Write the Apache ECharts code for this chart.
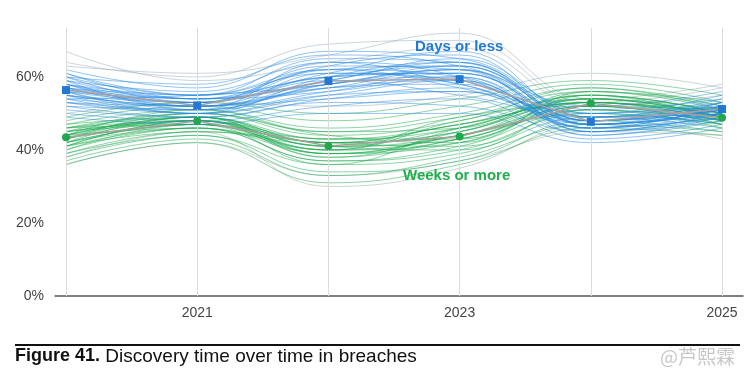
<!DOCTYPE html>
<html><head><meta charset="utf-8">
<script src="https://cdn.jsdelivr.net/npm/echarts@6/dist/echarts.min.js"></script>
<style>html,body{margin:0;padding:0;background:#fff}#c{width:749px;height:386px}</style>
</head><body><div id="c"></div>
<script>
const years = [2020, 2021, 2022, 2023, 2024, 2025];
const xTickLabels = [2021, 2023, 2025];
const yTicks = [0, 20, 40, 60];
const daysOrLess = [56.4, 52.2, 58.9, 59.4, 47.7, 51.2];
const weeksOrMore = [43.5, 47.9, 41.1, 43.7, 52.8, 48.8];

const daysSamples = [
  [57, 53, 60, 61, 48, 51], [55, 52, 57, 58, 47, 50], [59, 54, 62, 63, 49, 52],
  [53, 50, 55, 56, 46, 49], [61, 55, 65, 64, 50, 53], [56, 51, 58, 62, 45, 50],
  [58, 55, 61, 59, 48, 52], [52, 49, 54, 57, 44, 48], [60, 53, 63, 66, 47, 51],
  [54, 52, 59, 55, 49, 53], [62, 57, 67, 65, 51, 54], [50, 48, 52, 54, 43, 47],
  [57, 54, 56, 60, 46, 49], [55, 50, 60, 64, 48, 52], [59, 56, 64, 58, 50, 55],
  [51, 49, 53, 52, 45, 48], [58, 52, 57, 62, 47, 50], [56, 53, 61, 67, 49, 51],
  [53, 51, 58, 60, 44, 49], [60, 58, 66, 63, 52, 56], [54, 50, 55, 59, 46, 50],
  [57, 55, 62, 57, 48, 53], [61, 54, 59, 65, 50, 52], [52, 51, 56, 61, 47, 51],
  [58, 53, 63, 62, 45, 49], [55, 52, 54, 56, 49, 54], [49, 47, 50, 50, 42, 46],
  [56, 54, 60, 61, 47, 50], [59, 51, 64, 60, 46, 52], [54, 55, 58, 63, 48, 50],
  [57, 52, 59, 64, 47, 51], [55, 53, 62, 60, 46, 52], [58, 54, 58, 62, 49, 50],
  [56, 50, 61, 58, 47, 53], [60, 55, 60, 63, 48, 51], [53, 52, 57, 59, 45, 50]
];
const daysOutliers = [
  [64, 60, 69, 70, 53, 57], [67, 59, 64, 68, 52, 55], [63, 61, 66, 72, 54, 58]
];
const weeksSamples = [
  [44, 48, 41, 44, 53, 49], [42, 47, 39, 42, 52, 48], [46, 49, 43, 47, 55, 50],
  [40, 46, 37, 40, 50, 47], [45, 50, 45, 46, 56, 51], [43, 47, 40, 48, 54, 49],
  [41, 45, 42, 41, 51, 46], [47, 51, 46, 50, 57, 52], [39, 44, 36, 39, 49, 46],
  [44, 49, 38, 45, 53, 50], [48, 52, 48, 52, 58, 53], [38, 44, 34, 37, 48, 45],
  [43, 48, 43, 43, 55, 48], [45, 47, 40, 49, 52, 51], [41, 46, 39, 44, 50, 47],
  [46, 50, 44, 42, 56, 52], [37, 43, 33, 38, 47, 45], [42, 49, 41, 46, 54, 50],
  [44, 46, 37, 41, 51, 48], [49, 53, 50, 54, 59, 55], [40, 47, 42, 47, 53, 49],
  [45, 48, 39, 43, 52, 47], [43, 50, 44, 48, 57, 51], [36, 42, 31, 36, 46, 44],
  [47, 49, 42, 45, 55, 50], [41, 48, 38, 43, 51, 48], [44, 51, 45, 49, 56, 53],
  [42, 46, 40, 44, 54, 49], [46, 47, 36, 46, 53, 50], [39, 45, 41, 40, 52, 47],
  [43, 49, 42, 45, 54, 49], [45, 48, 40, 42, 53, 48], [42, 47, 43, 46, 55, 50],
  [44, 49, 39, 44, 52, 49], [41, 48, 41, 43, 54, 51], [46, 48, 42, 47, 53, 48]
];
const weeksOutliers = [
  [50, 53, 52, 55, 61, 57], [38, 45, 30, 35, 47, 43], [36, 42, 33, 37, 45, 44]
];

const FONT = '"Liberation Sans", Arial, Helvetica, sans-serif';
const BLUE = '#2378d2', GREEN = '#1fa84c';

function spaghetti(arr, color, width) {
  return arr.map(vals => ({
    type: 'line', smooth: 0.45, symbol: 'none', silent: true, z: 2,
    data: years.map((y, i) => [y, vals[i]]),
    lineStyle: { color: color, width: width }
  }));
}

const series = [
  {
    type: 'line', data: [], silent: true, z: 1,
    markLine: {
      silent: true, symbol: 'none', label: { show: false },
      lineStyle: { color: '#dcdcdc', width: 1, type: 'solid' },
      data: years.map(y => ({ xAxis: y }))
    }
  },
  ...spaghetti(weeksOutliers, 'rgba(140,165,155,0.5)', 0.9),
  ...spaghetti(daysOutliers, 'rgba(140,160,180,0.5)', 0.9),
  ...spaghetti(weeksSamples, 'rgba(25,168,75,0.55)', 0.9),
  ...spaghetti(daysSamples, 'rgba(35,135,225,0.55)', 0.9),
  {
    type: 'line', z: 5, data: years.map((y, i) => [y, daysOrLess[i]]),
    symbol: 'rect', symbolSize: 8, itemStyle: { color: BLUE },
    lineStyle: { color: '#a89e9e', width: 1.5 }
  },
  {
    type: 'line', z: 5, data: years.map((y, i) => [y, weeksOrMore[i]]),
    symbol: 'circle', symbolSize: 8, itemStyle: { color: GREEN },
    lineStyle: { color: '#a89e9e', width: 1.5 }
  }
];

const chart = echarts.init(document.getElementById('c'), null, { renderer: 'canvas' });
chart.setOption({
  animation: false,
  backgroundColor: '#fff',
  grid: { left: 55, right: 6, top: 28, bottom: 90 },
  xAxis: {
    type: 'value', min: 2019.916, max: 2025.16,
    axisLine: { show: true, lineStyle: { color: '#555', width: 1.5 } },
    axisTick: { show: false },
    splitLine: { show: false },
    axisLabel: {
      customValues: xTickLabels, color: '#444', fontSize: 14, fontFamily: FONT, margin: 10,
      formatter: v => String(v)
    }
  },
  yAxis: {
    type: 'value', min: 0, max: 73.4, interval: 20,
    axisLine: { show: false }, axisTick: { show: false }, splitLine: { show: false },
    axisLabel: {
      customValues: yTicks, color: '#444', fontSize: 14, fontFamily: FONT, margin: 11,
      formatter: v => v + '%'
    }
  },
  series: series,
  graphic: [
    { type: 'text', left: 415, top: 39, z: 10,
      style: { text: 'Days or less', fill: '#1f7bd4', font: 'bold 15px ' + FONT } },
    { type: 'text', left: 403, top: 168, z: 10,
      style: { text: 'Weeks or more', fill: '#1fae4b', font: 'bold 15px ' + FONT } },
    { type: 'line', shape: { x1: 15, y1: 345, x2: 740, y2: 345 },
      style: { stroke: '#111', lineWidth: 2 } },
    { type: 'text', left: 15, top: 347,
      style: { text: '{b|Figure 41.} Discovery time over time in breaches',
        rich: { b: { font: 'bold 18px ' + FONT, fill: '#111' } },
        font: '19px ' + FONT, fill: '#111' } },
    { type: 'text', left: 660, top: 347,
      style: { text: '@芦熙霖', font: '19px "Noto Sans CJK SC", sans-serif', fill: '#c8c8c8' } }
  ]
});
</script>
</body></html>
